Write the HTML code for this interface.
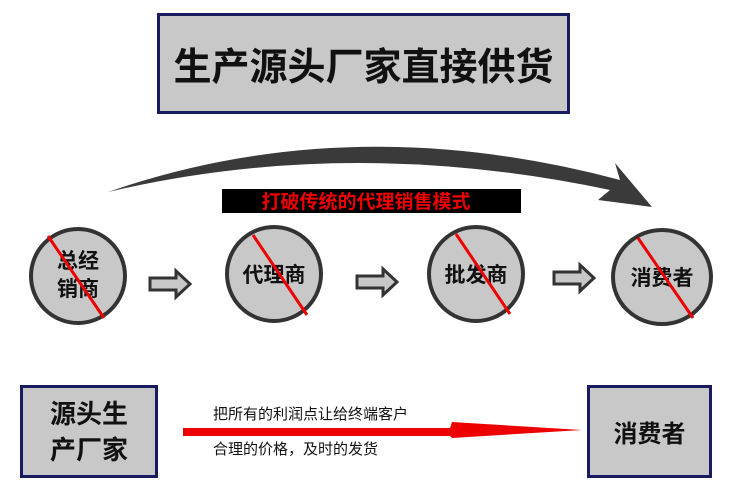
<!DOCTYPE html>
<html><head><meta charset="utf-8"><style>
body{margin:0;width:750px;height:500px;background:#fff;position:relative;overflow:hidden;font-family:"Liberation Sans","Noto Sans CJK SC",sans-serif}
.box{position:absolute;background:#c8c8c8;border:3px solid #1a1a5e;box-sizing:border-box;display:flex;align-items:center;justify-content:center;font-weight:bold;color:#111;text-align:center}
.t{position:absolute;white-space:nowrap}
</style></head><body>
<div class="box" style="left:157px;top:13px;width:413px;height:101px;font-size:38px">生产源头厂家直接供货</div>
<svg width="750" height="500" style="position:absolute;left:0;top:0">
<path d="M108,192 Q350,108 620,180 L615,163 L652,207 L598,200 L610,190 Q350,135 108,192 Z" fill="#3a3a3a"/>
<rect x="222" y="189" width="299" height="24" fill="#000"/>
<g stroke="#333" stroke-width="4" fill="#c8c8c8">
<ellipse cx="78" cy="276" rx="47" ry="47"/>
<ellipse cx="274" cy="274" rx="47" ry="47"/>
<ellipse cx="476" cy="274" rx="47" ry="47"/>
<ellipse cx="662" cy="277" rx="49" ry="47"/>
</g>
<g stroke="#333" stroke-width="3" fill="#c8c8c8" stroke-linejoin="miter">
<path d="M150,278 H176 V271 L190,284 L176,297 V290 H150 Z"/>
<path d="M357,276 H383 V269 L397,282 L383,295 V288 H357 Z"/>
<path d="M554,272 H580 V265 L594,278 L580,291 V284 H554 Z"/>
</g>
<text x="78" y="268" font-size="21" font-weight="bold" text-anchor="middle" fill="#111">总经</text>
<text x="78" y="296" font-size="21" font-weight="bold" text-anchor="middle" fill="#111">销商</text>
<text x="274" y="282" font-size="21" font-weight="bold" text-anchor="middle" fill="#111">代理商</text>
<text x="476" y="282" font-size="21" font-weight="bold" text-anchor="middle" fill="#111">批发商</text>
<text x="662" y="285" font-size="21" font-weight="bold" text-anchor="middle" fill="#111">消费者</text>
<g stroke="#e00" stroke-width="3">
<line x1="48" y1="236" x2="104" y2="318"/>
<line x1="253" y1="235" x2="307" y2="315"/>
<line x1="456" y1="234" x2="510" y2="314"/>
<line x1="638" y1="238" x2="693" y2="318"/>
</g>
<text x="366" y="208" font-size="19" font-weight="bold" text-anchor="middle" fill="#e00">打破传统的代理销售模式</text>
<path d="M183,428 H450 L452,422 L582,430 L452,438 L450,436 H183 Z" fill="#e00"/>
</svg>
<div class="box" style="left:20px;top:385px;width:138px;height:93px;font-size:26px;line-height:36px">源头生<br>产厂家</div>
<div class="box" style="left:587px;top:385px;width:125px;height:93px;font-size:24px">消费者</div>
<div class="t" style="left:213px;top:403px;font-size:15px;color:#111">把所有的利润点让给终端客户</div>
<div class="t" style="left:213px;top:438px;font-size:15px;color:#111">合理的价格，及时的发货</div>
</body></html>
